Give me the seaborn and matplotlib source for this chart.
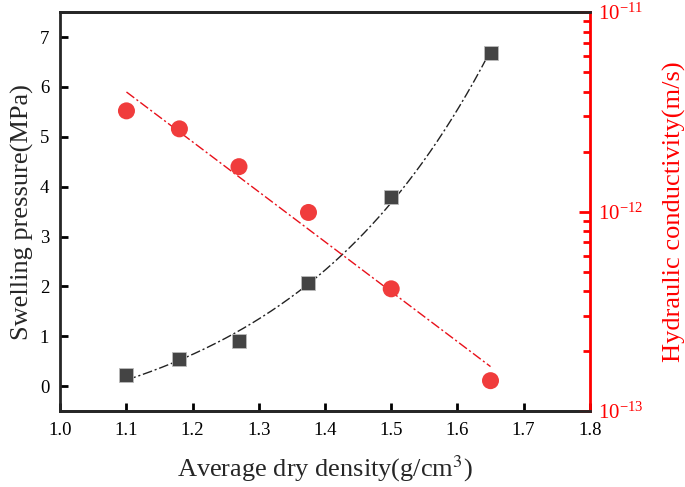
import numpy as np
import pandas as pd
import matplotlib
matplotlib.use("Agg")
import matplotlib.pyplot as plt
import seaborn as sns
from matplotlib.ticker import LogLocator, LogFormatterMathtext, NullFormatter

# data
density = [1.10, 1.18, 1.27, 1.375, 1.50, 1.65]
swelling = [0.22, 0.54, 0.90, 2.06, 3.80, 6.69]
conductivity = [3.2e-12, 2.6e-12, 1.68e-12, 9.9e-13, 4.1e-13, 1.42e-13]

sns.set_style("ticks")
plt.rcParams["font.family"] = ["Liberation Serif", "DejaVu Serif"]
plt.rcParams["mathtext.fontset"] = "stix"

df = pd.DataFrame({"density": density, "swelling": swelling, "k": conductivity})
x = df["density"].to_numpy()
xs = np.linspace(x.min(), x.max(), 200)

# swelling pressure: y = y0 + A*exp(b*x), b by grid search, y0/A by least squares
best = None
for b in np.linspace(0.5, 15, 3000):
    M = np.column_stack([np.ones_like(x), np.exp(b * x)])
    coef, *_ = np.linalg.lstsq(M, df["swelling"].to_numpy(), rcond=None)
    r = np.sum((M @ coef - df["swelling"].to_numpy()) ** 2)
    if best is None or r < best[0]:
        best = (r, b, coef)
_, b1, (y0, A1) = best

# hydraulic conductivity: log-linear fit
b2, a2 = np.polyfit(x, np.log10(df["k"]), 1)
fit = pd.DataFrame({"x": xs, "sp": y0 + A1 * np.exp(b1 * xs), "k": 10 ** (a2 + b2 * xs)})

gray = "#444444"
red = "#f03c3c"
dashdot = (0, (7, 2, 1.5, 2))

fig, ax = plt.subplots(figsize=(6.85, 4.87), dpi=100)
fig.subplots_adjust(left=0.088, right=0.861, top=0.975, bottom=0.156)
ax2 = ax.twinx()

sns.lineplot(data=fit, x="x", y="sp", ax=ax, color="#222222", lw=1, linestyle=dashdot)
sns.scatterplot(data=df, x="density", y="swelling", ax=ax, marker="s", s=110,
                color=gray, edgecolor="#bbbbbb", linewidth=0.6, zorder=3)

sns.lineplot(data=fit, x="x", y="k", ax=ax2, color="#e8101a", lw=1, linestyle=dashdot)
sns.scatterplot(data=df, x="density", y="k", ax=ax2, marker="o", s=150,
                color=red, edgecolor="none", zorder=3)

ax.set_xlim(1.0, 1.8)
ax.set_ylim(-0.5, 7.5)
ax.set_xticks(np.arange(1.0, 1.81, 0.1))
ax.set_yticks(range(0, 8))
ax.set_xlabel("Average dry density(g/cm$^3$)", fontsize=19, labelpad=10)
ax.set_ylabel("Swelling pressure(MPa)", fontsize=19, labelpad=4)
ax.tick_params(direction="in", length=6, width=2, labelsize=13.5, pad=8, colors="black")

ax2.set_xlabel("")
ax2.set_yscale("log")
ax2.set_ylim(1e-13, 1e-11)
ax2.yaxis.set_major_locator(LogLocator(base=10))
ax2.yaxis.set_major_formatter(LogFormatterMathtext())
ax2.yaxis.set_minor_locator(LogLocator(base=10, subs=np.arange(2, 10)))
ax2.yaxis.set_minor_formatter(NullFormatter())
ax2.set_ylabel("Hydraulic conductivity(m/s)", fontsize=19, color="red", labelpad=14)
ax2.tick_params(axis="y", which="major", direction="in", length=8, width=2,
                colors="red", labelsize=15, pad=6)
ax2.tick_params(axis="y", which="minor", direction="in", length=5, width=2, colors="red")

for sp in ax.spines.values():
    sp.set_linewidth(2)
for sp in ax2.spines.values():
    sp.set_linewidth(2)
ax2.spines["right"].set_color("red")
ax2.spines["left"].set_visible(False)
ax.spines["right"].set_visible(False)

fig.savefig("out.png", dpi=100)
